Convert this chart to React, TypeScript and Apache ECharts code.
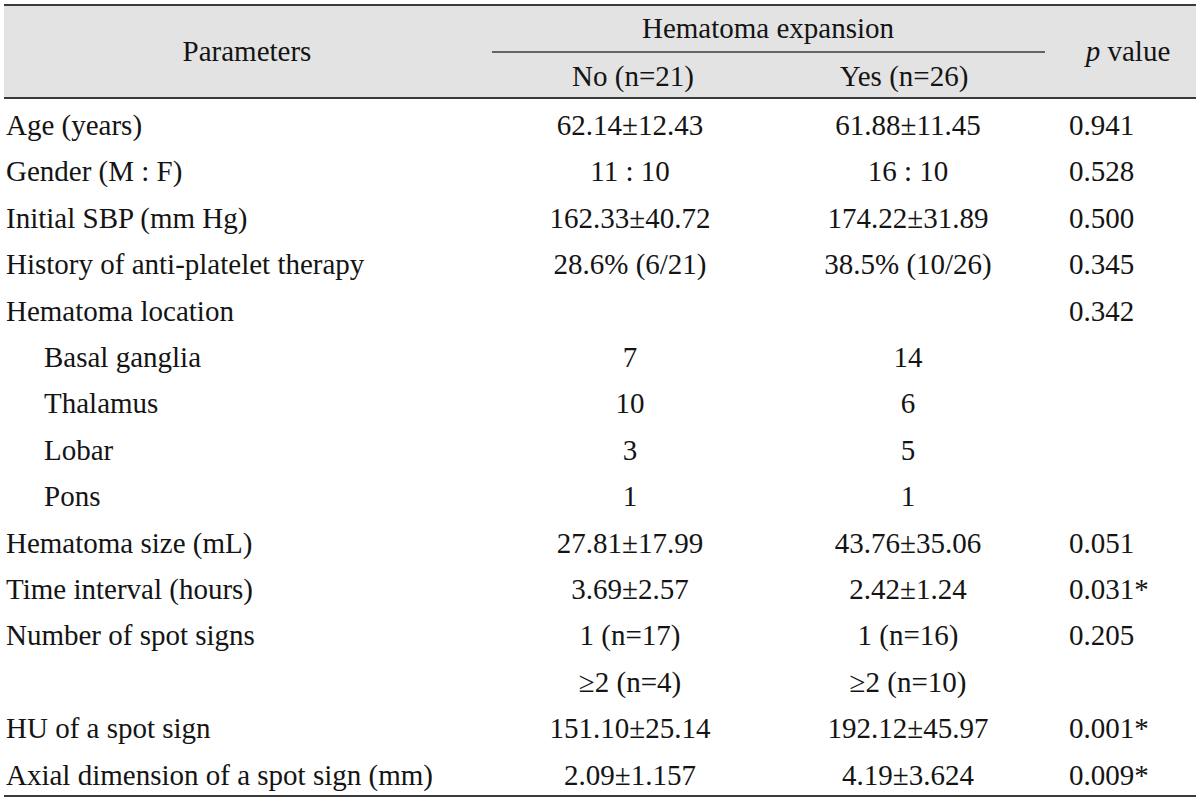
import React, { useEffect, useRef } from "react";
import * as echarts from "echarts";

const groupTitle = "Hematoma expansion";
const columnHeaders = ["Parameters", "No (n=21)", "Yes (n=26)", "p value"];
const parameters = [
  "Age (years)",
  "Gender (M : F)",
  "Initial SBP (mm Hg)",
  "History of anti-platelet therapy",
  "Hematoma location",
  "Basal ganglia",
  "Thalamus",
  "Lobar",
  "Pons",
  "Hematoma size (mL)",
  "Time interval (hours)",
  "Number of spot signs",
  "",
  "HU of a spot sign",
  "Axial dimension of a spot sign (mm)",
];
const subItems = ["Basal ganglia", "Thalamus", "Lobar", "Pons"];
const noValues = [
  "62.14±12.43", "11 : 10", "162.33±40.72", "28.6% (6/21)", "",
  "7", "10", "3", "1",
  "27.81±17.99", "3.69±2.57", "1 (n=17)", "≥2 (n=4)", "151.10±25.14", "2.09±1.157",
];
const yesValues = [
  "61.88±11.45", "16 : 10", "174.22±31.89", "38.5% (10/26)", "",
  "14", "6", "5", "1",
  "43.76±35.06", "2.42±1.24", "1 (n=16)", "≥2 (n=10)", "192.12±45.97", "4.19±3.624",
];
const pValues = [
  "0.941", "0.528", "0.500", "0.345", "0.342",
  "", "", "", "",
  "0.051", "0.031*", "0.205", "", "0.001*", "0.009*",
];

const FONT = "'Liberation Serif', 'DejaVu Serif', serif";
const FS = 29;
const COLOR = "#141414";
const LINE = "#3a3a3a";

export default function App() {
  const ref = useRef<HTMLDivElement>(null);
  useEffect(() => {
    if (!ref.current) return;
    const chart = echarts.init(ref.current, null, { renderer: "svg" });
    const left = 4;
    const right = 1196;
    const top = 5;
    const headBottom = 98;
    const bottom = 796;
    const row0 = 125;
    const rowH = 46.4;
    const colX = [6, 630, 908, 1069];
    const subIndent = 38;

    const els: any[] = [];
    els.push({
      type: "rect",
      shape: { x: left, y: top, width: right - left, height: headBottom - top },
      style: { fill: "#e3e3e3" },
      silent: true,
    });
    const hline = (y: number, x1: number, x2: number, w: number) =>
      els.push({
        type: "line",
        shape: { x1, y1: y, x2, y2: y },
        style: { stroke: LINE, lineWidth: w },
        silent: true,
      });
    hline(top, left, right, 2);
    hline(headBottom, left, right, 2);
    hline(52, 492, 1045, 1.5);
    hline(bottom, left, right, 2);

    const txt = (text: string, x: number, y: number, align: string) =>
      els.push({
        type: "text",
        x,
        y,
        silent: true,
        style: {
          text,
          x: 0,
          y: 0,
          fill: COLOR,
          fontFamily: FONT,
          fontSize: FS,
          align,
          verticalAlign: "middle",
        },
      });

    // header
    txt(columnHeaders[0], 247, 51, "center");
    txt(groupTitle, 768, 28, "center");
    txt(columnHeaders[1], 633, 76, "center");
    txt(columnHeaders[2], 904, 76, "center");
    els.push({
      type: "text",
      x: 1128,
      y: 51,
      silent: true,
      style: {
        text: "{i|p}{n| value}",
        align: "center",
        verticalAlign: "middle",
        fill: COLOR,
        rich: {
          i: { fontFamily: FONT, fontSize: FS, fontStyle: "italic", fill: COLOR },
          n: { fontFamily: FONT, fontSize: FS, fill: COLOR },
        },
      },
    });

    parameters.forEach((p, i) => {
      const y = row0 + i * rowH;
      if (p) txt(p, colX[0] + (subItems.includes(p) ? subIndent : 0), y, "left");
      if (noValues[i]) txt(noValues[i], colX[1], y, "center");
      if (yesValues[i]) txt(yesValues[i], colX[2], y, "center");
      if (pValues[i]) txt(pValues[i], colX[3], y, "left");
    });

    chart.setOption({
      animation: false,
      backgroundColor: "#ffffff",
      graphic: { elements: els },
    });
    return () => chart.dispose();
  }, []);
  return (
    <div
      ref={ref}
      style={{ position: "fixed", left: 0, top: 0, width: 1200, height: 802 }}
    />
  );
}
